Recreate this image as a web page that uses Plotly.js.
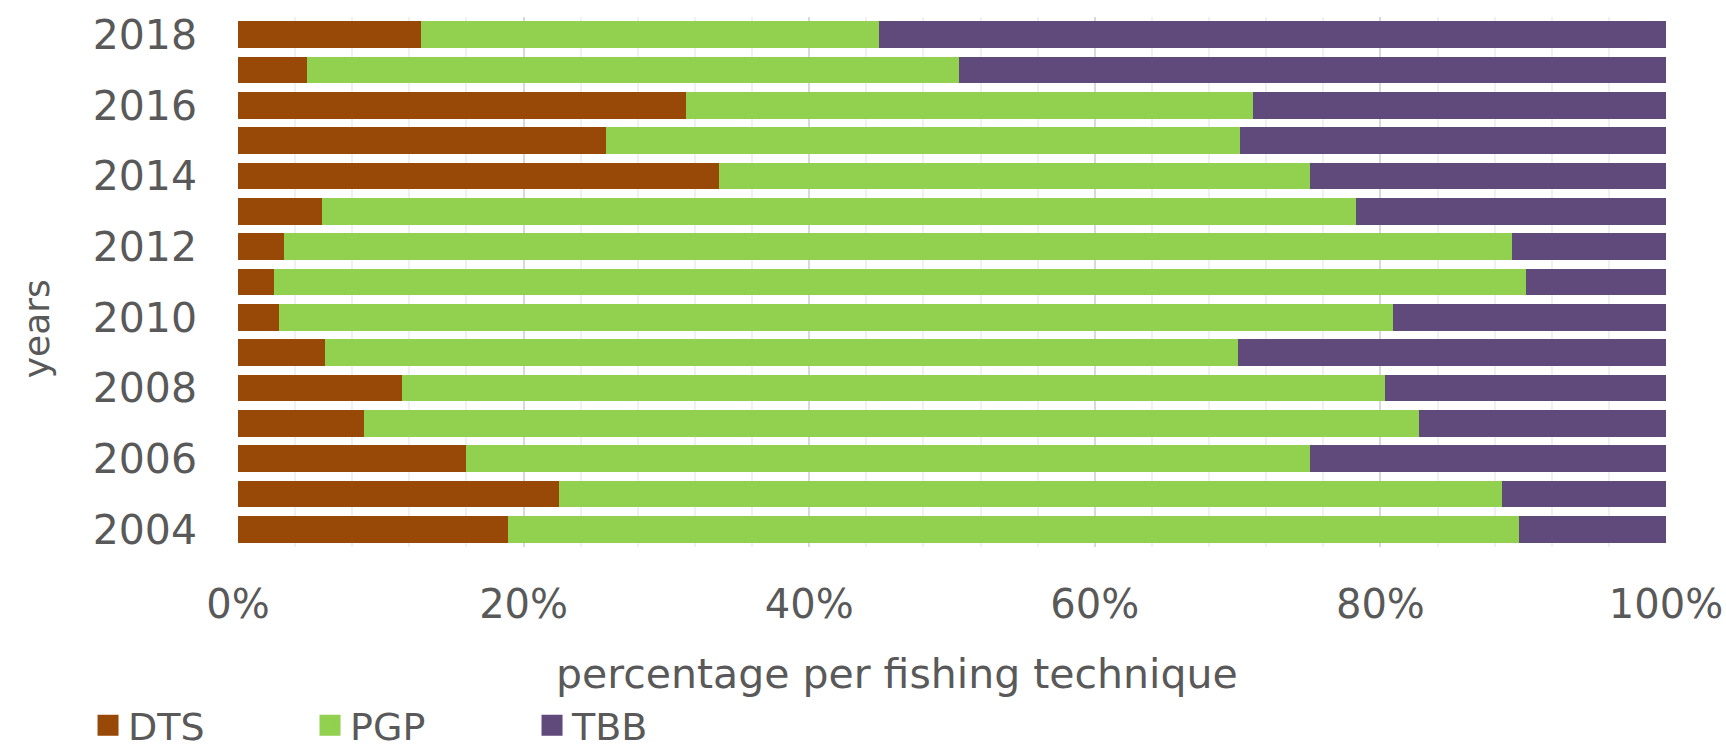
<!DOCTYPE html>
<html>
<head>
<meta charset="utf-8">
<script src="https://cdn.plot.ly/plotly-3.0.1.min.js"></script>
<style>
  html, body { margin: 0; padding: 0; background: #ffffff; }
  #chart { width: 1726px; height: 751px; }
</style>
</head>
<body>
<div id="chart"></div>
<script>
// Data (percent share per fishing technique)
const years = [2004, 2005, 2006, 2007, 2008, 2009, 2010, 2011, 2012, 2013, 2014, 2015, 2016, 2017, 2018];
const DTS = [18.9, 22.5, 16.0, 8.8, 11.5, 6.1, 2.9, 2.5, 3.2, 5.9, 33.7, 25.8, 31.4, 4.8, 12.8];
const PGP = [70.8, 66.0, 59.1, 73.9, 68.8, 63.9, 78.0, 87.7, 86.0, 72.4, 41.4, 44.4, 39.7, 45.7, 32.1];
const TBB = [10.3, 11.5, 24.9, 17.3, 19.7, 30.0, 19.1, 9.8, 10.8, 21.7, 24.9, 29.8, 28.9, 49.5, 55.1];
const seriesNames = ['DTS', 'PGP', 'TBB'];
const seriesColors = ['#984807', '#92D050', '#604A7B'];
const xTickVals = [0, 20, 40, 60, 80, 100];
const xTickText = ['0%', '20%', '40%', '60%', '80%', '100%'];
const yTickVals = [2004, 2006, 2008, 2010, 2012, 2014, 2016, 2018];
const xTitle = 'percentage per fishing technique';
const yTitle = 'years';

const seriesData = [DTS, PGP, TBB];
const textColor = '#595959';
const fontFamily = 'DejaVu Sans, sans-serif';

const traces = [];
seriesData.forEach((vals, i) => {
  traces.push({
    type: 'bar',
    orientation: 'h',
    x: vals,
    y: years,
    name: seriesNames[i],
    marker: { color: seriesColors[i] },
    showlegend: false,
    hoverinfo: 'x+y+name'
  });
});
// legend entries
seriesNames.forEach((n, i) => {
  traces.push({
    type: 'scatter',
    mode: 'markers',
    x: [null],
    y: [null],
    name: n,
    marker: { symbol: 'square', size: 16, color: seriesColors[i], line: { width: 5, color: seriesColors[i] } },
    showlegend: true
  });
});

const layout = {
  width: 1726,
  height: 751,
  paper_bgcolor: '#ffffff',
  plot_bgcolor: '#ffffff',
  barmode: 'stack',
  bargap: 0.25,
  margin: { l: 238, r: 60, t: 17, b: 204, pad: 0 },
  font: { family: fontFamily, color: textColor, size: 38 },
  xaxis: {
    range: [0, 100],
    tickvals: xTickVals,
    ticktext: xTickText,
    showgrid: true,
    gridcolor: '#d9d9d9',
    gridwidth: 2,
    zeroline: false,
    showline: false,
    ticks: '',
    ticklabelstandoff: 30,
    tickfont: { size: 40, color: textColor, family: fontFamily },
    minor: { dtick: 4, tick0: 0, showgrid: true, gridcolor: '#f0f0f0', gridwidth: 2, ticks: '' },
    automargin: false,
    fixedrange: true
  },
  yaxis: {
    range: [2003.5, 2018.5],
    tickvals: yTickVals,
    ticktext: yTickVals.map(String),
    showgrid: false,
    zeroline: false,
    showline: false,
    ticks: '',
    ticklabelstandoff: 40,
    tickfont: { size: 41, color: textColor, family: fontFamily },
    automargin: false,
    fixedrange: true
  },
  annotations: [
    {
      text: xTitle,
      xref: 'paper', yref: 'paper',
      x: 0.4615, y: -0.24,
      xanchor: 'center', yanchor: 'middle',
      showarrow: false,
      font: { size: 41, color: textColor, family: fontFamily }
    },
    {
      text: yTitle,
      xref: 'paper', yref: 'paper',
      x: -0.141, y: 0.412,
      xanchor: 'center', yanchor: 'middle',
      textangle: -90,
      showarrow: false,
      font: { size: 36, color: textColor, family: fontFamily }
    }
  ],
  legend: {
    orientation: 'h',
    traceorder: 'normal',
    xref: 'container',
    yref: 'container',
    x: 0.051,
    xanchor: 'left',
    y: 0.034,
    yanchor: 'middle',
    entrywidth: 177,
    entrywidthmode: 'pixels',
    font: { size: 38, color: textColor, family: fontFamily },
    bgcolor: 'rgba(0,0,0,0)'
  },
  showlegend: true
};

Plotly.newPlot('chart', traces, layout, { displayModeBar: false, staticPlot: true });
</script>
</body>
</html>
